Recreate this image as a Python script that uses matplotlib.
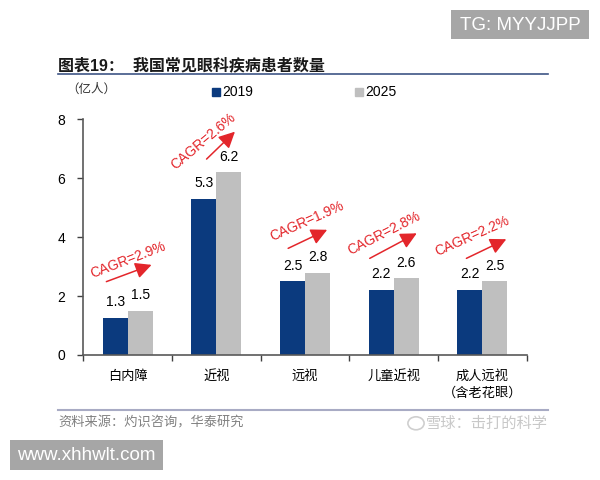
import matplotlib
matplotlib.use('Agg')
import matplotlib.pyplot as plt
import numpy as np
from matplotlib.patches import Rectangle, Circle
from matplotlib.lines import Line2D

plt.rcParams['font.family'] = ['Liberation Sans', 'Noto Sans CJK SC']

#=======================================================
categories = ['白内障', '近视', '远视', '儿童近视', '成人远视\n（含老花眼）']
v2019 = [1.3, 5.3, 2.5, 2.2, 2.2]
v2025 = [1.5, 6.2, 2.8, 2.6, 2.5]
bar2019 = [1.27, 5.3, 2.5, 2.2, 2.2]
bar2025 = [1.51, 6.2, 2.8, 2.6, 2.5]
cagr = ['CAGR=2.9%', 'CAGR=2.6%', 'CAGR=1.9%', 'CAGR=2.8%', 'CAGR=2.2%']
yticks = [0, 2, 4, 6, 8]

BLUE = '#0B3A7E'
GREY = '#BFBFBF'
RED = '#E3262B'

#=======================================================
fig = plt.figure(figsize=(6, 4.8), dpi=100)
W, H = 600.0, 480.0
def fx(px): return px / W
def fy(py): return 1 - py / H

ax = fig.add_axes([fx(83.3), fy(355), fx(526.7) - fx(83.3), fy(119.3) - fy(355)])

x = np.arange(len(categories))
w = 0.282
ax.bar(x - w / 2, bar2019, w, color=BLUE, label='2019')
ax.bar(x + w / 2, bar2025, w, color=GREY, label='2025')

for i in range(len(categories)):
    ax.annotate(f'{v2019[i]:.1f}', (x[i] - w / 2, bar2019[i]), xytext=(0, 11.3),
                textcoords='offset points', ha='center', va='center', fontsize=10)
    ax.annotate(f'{v2025[i]:.1f}', (x[i] + w / 2, bar2025[i]), xytext=(0, 11.3),
                textcoords='offset points', ha='center', va='center', fontsize=10)

# CAGR labels and arrows (data coords)
txt_pos = [(0.00, 3.23, 21), (0.85, 7.25, 40), (2.02, 4.53, 24), (2.89, 4.13, 27), (3.88, 4.02, 24)]
arr_pos = [((-0.24, 2.49), (0.27, 3.06)), ((0.89, 6.65), (1.21, 7.58)),
           ((1.81, 3.62), (2.25, 4.25)), ((2.73, 3.28), (3.26, 4.13)),
           ((3.82, 3.28), (4.27, 3.93))]
for i, s in enumerate(cagr):
    tx, ty, rot = txt_pos[i]
    ax.text(tx, ty, s, color=RED, fontsize=10, rotation=rot, rotation_mode='anchor',
            ha='center', va='center')
    a, b = arr_pos[i]
    ax.annotate('', xy=b, xytext=a,
                arrowprops=dict(arrowstyle='-|>,head_length=0.7,head_width=0.35',
                                color=RED, lw=1.1, mutation_scale=14,
                                shrinkA=0, shrinkB=0))

ax.set_xlim(-0.5, len(categories) - 0.5)
ax.set_ylim(0, 8)
ax.set_yticks(yticks)
ax.set_xticks(x)
ax.set_xticklabels(categories, fontsize=9.5)
for lbl in ax.get_xticklabels():
    lbl.set_linespacing(1.45)
ax.set_xticks(np.arange(-0.5, len(categories)), minor=True)
ax.tick_params(axis='x', which='major', length=0, pad=11)
ax.tick_params(axis='x', which='minor', length=4, width=1, color='#404040', direction='out')
ax.tick_params(axis='y', length=4, width=1, color='#404040', direction='out', pad=9, labelsize=10)

for s in ['top', 'right']:
    ax.spines[s].set_visible(False)
for s in ['left', 'bottom']:
    ax.spines[s].set_color('#595959')
    ax.spines[s].set_linewidth(1.2)

# legend
handles = [Line2D([], [], marker='s', color='none', markerfacecolor=BLUE, markeredgecolor=BLUE, markersize=5.5),
           Line2D([], [], marker='s', color='none', markerfacecolor=GREY, markeredgecolor=GREY, markersize=5.5)]
fig.legend(handles, ['2019', '2025'], ncol=2, frameon=False, fontsize=10,
           loc='center left', bbox_to_anchor=(fx(212), fy(92.5)),
           handlelength=0.6, handletextpad=0.15, columnspacing=7.3, borderaxespad=0, borderpad=0)

#=======================================================
# header / footer
fig.text(fx(58), fy(65), '图表19：  我国常见眼科疾病患者数量', fontsize=11.5, fontweight='bold',
         ha='left', va='center', color='#1a1a1a')
fig.add_artist(Line2D([fx(58), fx(548)], [fy(74), fy(74)], color='#3E5585', lw=1.2))
fig.text(fx(91), fy(89.3), '（亿人）', fontsize=9, ha='center', va='center', color='#333333')

fig.add_artist(Line2D([fx(58), fx(548)], [fy(410), fy(410)], color='#A8ABC4', lw=1.5))
fig.text(fx(58), fy(422.7), '资料来源：灼识咨询，华泰研究', fontsize=9.5, ha='left', va='center', color='#808080')

fig.add_artist(Circle((fx(416), fy(423.3)), 0.0135, transform=fig.transFigure,
                      fill=False, ec='#CFCFCF', lw=1.2))
fig.text(fx(548), fy(423.3), '雪球：击打的科学', fontsize=11, ha='right', va='center', color='#C8C8C8')

# watermark boxes
fig.add_artist(Rectangle((fx(451), fy(39.3)), fx(589) - fx(451), fy(10) - fy(39.3),
                         transform=fig.transFigure, color='#A6A6A6', lw=0))
fig.text(fx(520), fy(25), 'TG: MYYJJPP', fontsize=13.5, color='white', ha='center', va='center')

fig.add_artist(Rectangle((fx(10), fy(470)), fx(162.7) - fx(10), fy(440) - fy(470),
                         transform=fig.transFigure, color='#A6A6A6', lw=0))
fig.text(fx(86), fy(455), 'www.xhhwlt.com', fontsize=13.5, color='white', ha='center', va='center')

fig.savefig('out.png', dpi=100)
